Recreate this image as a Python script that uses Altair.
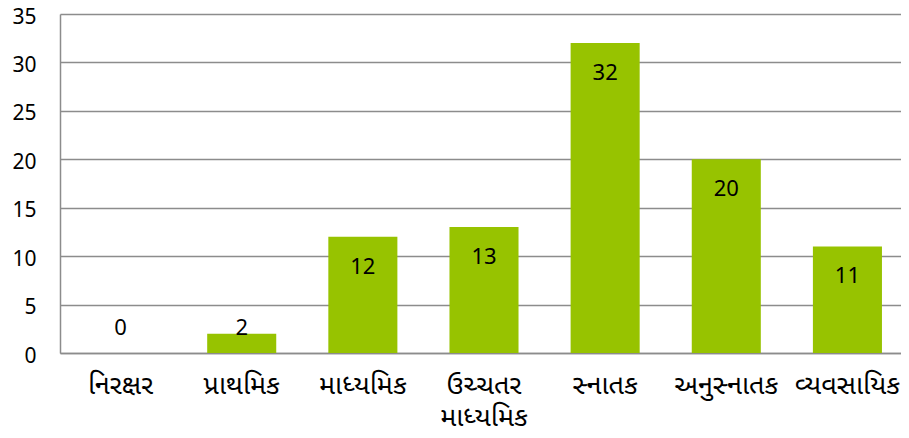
import altair as alt
import pandas as pd

categories = ["નિરક્ષર", "પ્રાથમિક", "માધ્યમિક", "ઉચ્ચતર\nમાધ્યમિક", "સ્નાતક", "અનુસ્નાતક", "વ્યવસાયિક"]
values = [0, 2, 12, 13, 32, 20, 11]
y_ticks = [0, 5, 10, 15, 20, 25, 30, 35]

df = pd.DataFrame({"cat": categories, "val": values})

FONT = "Noto Sans Gujarati, Noto Sans, Open Sans, sans-serif"
GRAY = "#8c8c8c"

x = alt.X("cat:N", sort=categories, title=None,
          scale=alt.Scale(paddingInner=0.43, paddingOuter=0.215),
          axis=alt.Axis(labelAngle=0, labelFont=FONT, labelFontSize=27, labelColor="#000",
                        labelPadding=19, ticks=False, domainColor=GRAY, domainWidth=1.5,
                        labelExpr="split(datum.label, '\\n')", labelLineHeight=32,
                        labelBaseline="top"))

bars = alt.Chart(df).mark_bar(color="#97C300").encode(
    x=x,
    y=alt.Y("val:Q", title=None, scale=alt.Scale(domain=[0, 35], nice=False),
            axis=alt.Axis(values=y_ticks, labelFont=FONT, labelFontSize=21, labelColor="#000",
                          labelPadding=24, labelOffset=3, ticks=False, domainColor=GRAY,
                          domainWidth=1.5, gridColor=GRAY, gridWidth=1.5)),
)

labels = alt.Chart(df).transform_calculate(
    pos="max(datum.val, 5.7)"
).mark_text(font=FONT, fontSize=22, color="#000", dy=30, baseline="middle").encode(
    x=alt.X("cat:N", sort=categories),
    y=alt.Y("pos:Q"),
    text=alt.Text("val:Q"),
)

chart = (bars + labels).properties(
    width=848, height=339,
    autosize=alt.AutoSizeParams(type="none"),
    padding={"left": 52, "top": 6, "right": -7, "bottom": 77},
).configure_view(stroke=None)

chart.save("out.html", embed_options={"renderer": "svg", "actions": False})
